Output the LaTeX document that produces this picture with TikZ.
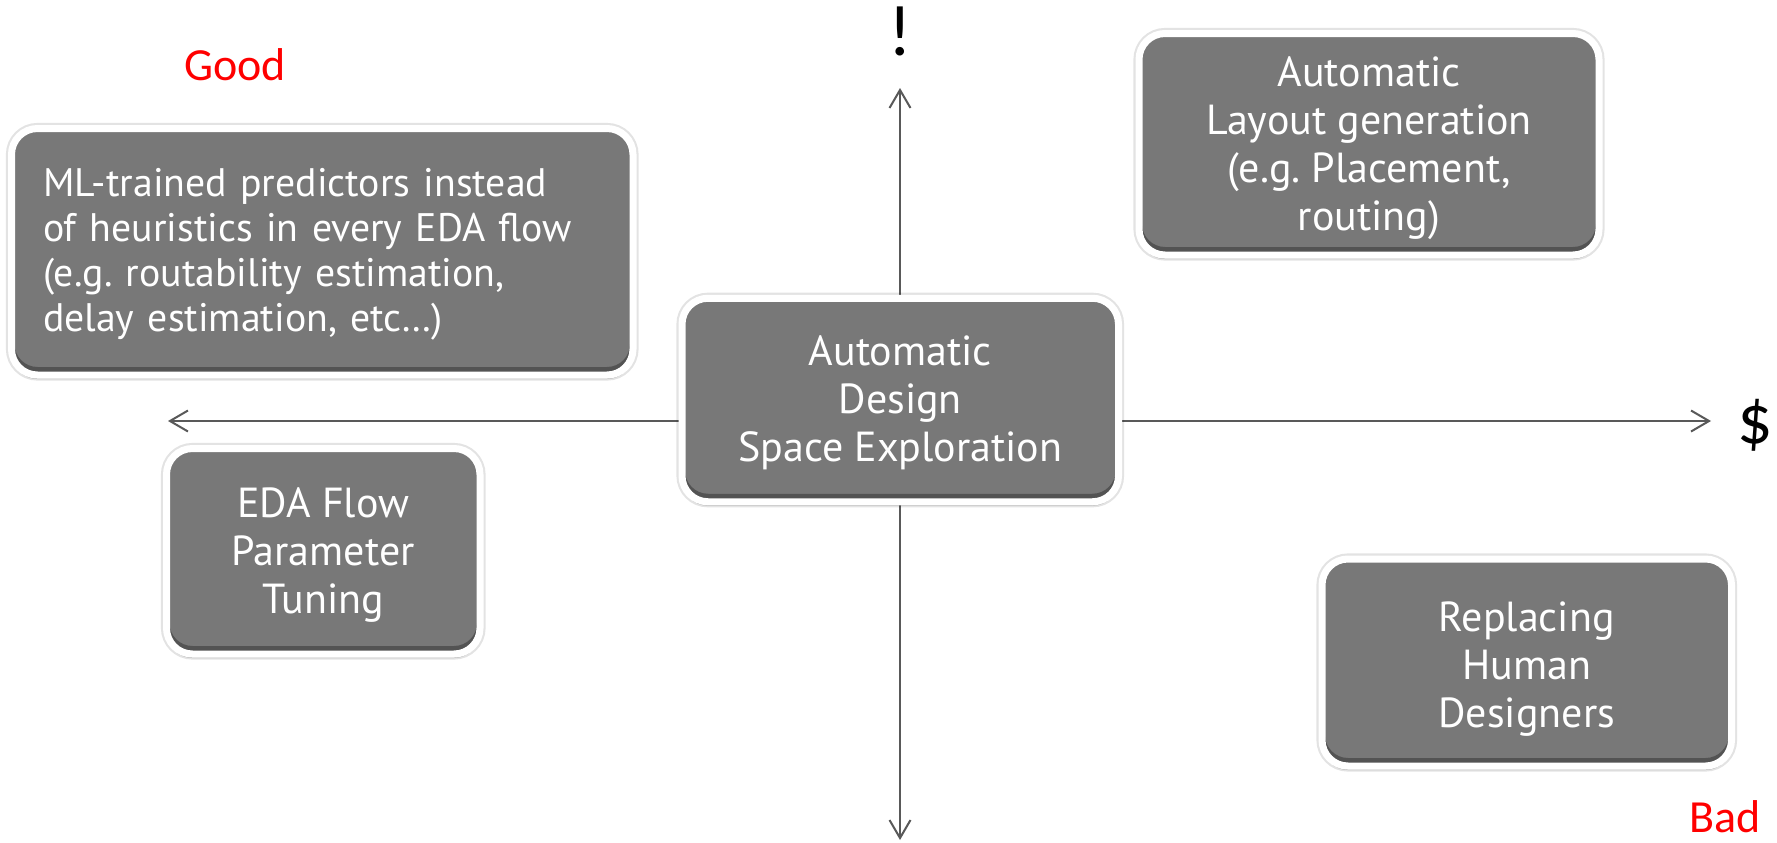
\documentclass[tikz,border=0pt]{standalone}
\usepackage{fontspec}
\setmainfont{Carlito}
\newfontfamily\boxfont{PT Sans}
\usetikzlibrary{arrows.meta,shadows}
\definecolor{boxgray}{HTML}{787878}
\definecolor{axisgray}{HTML}{595959}
\definecolor{labelred}{HTML}{FF0000}
\newcommand{\lowr}[1]{\rule{0pt}{#1}}
\tikzset{
  qbox/.style={rounded corners=13pt, fill=boxgray, draw=white, line width=3.5pt,
    text=white, font=\boxfont\frenchspacing\fontsize{21}{24}\selectfont, align=center, inner sep=0pt,
    drop shadow={shadow xshift=0pt, shadow yshift=-2pt, opacity=0.2, fill=black},
    preaction={draw=black, draw opacity=0.11, line width=5.6pt},
    path picture={\draw[black, opacity=0.3, line width=3pt, rounded corners=13pt]
      ([yshift=2.5pt]path picture bounding box.south west) rectangle
      ([yshift=2.5pt]path picture bounding box.north east);}},
  axisline/.style={draw=axisgray, line width=1pt,
    {Straight Barb[length=9pt,width=10.5pt,line width=1pt]}-{Straight Barb[length=9pt,width=10.5pt,line width=1pt]}},
  bigsym/.style={text=black, inner sep=0pt, anchor=base},
  ratelabel/.style={font=\fontsize{23}{27}\selectfont, text=labelred, inner sep=0pt, anchor=base},
}
\begin{document}
\begin{tikzpicture}[x=0.5pt,y=-0.5pt]
\fill[white] (0,0) rectangle (1777,842);
\useasboundingbox (0,0) rectangle (1777,842);

% axes
\coordinate (xl) at (168,421);
\coordinate (xr) at (1711,421);
\coordinate (yt) at (900,88);
\coordinate (yb) at (900,840);
\draw[axisline] (xl) -- (xr);
\draw[axisline] (yb) -- (yt);

\node[bigsym, font=\fontsize{36}{40}\selectfont] (excl) at (900,55) {!};
\node[bigsym, font=\fontsize{35}{40}\selectfont] (dollar) at (1755,443) {\$};
\node[ratelabel] (good) at (235,80) {Good};
\node[ratelabel] (bad) at (1725,832) {Bad};

% boxes
\node[qbox, minimum width=310.75pt, minimum height=123.25pt, align=left,
      font=\boxfont\frenchspacing\fontsize{19.9}{22.6}\selectfont,
      text width=279.25pt, inner xsep=15.75pt] (ml) at (322.25,251.75)
  {\lowr{16.6pt}ML-trained predictors instead\\of heuristics in every EDA flow\\(e.g. routability estimation,\\delay estimation, etc…)};
\node[qbox, minimum width=230pt, minimum height=110.75pt] (layout) at (1369,144.25)
  {\lowr{19pt}Automatic\\Layout generation\\(e.g. Placement,\\routing)};
\node[qbox, minimum width=218.25pt, minimum height=101.75pt] (dse) at (900.25,400)
  {\lowr{17.4pt}Automatic\\Design\\Space Exploration};
\node[qbox, minimum width=156.75pt, minimum height=102.75pt] (tuning) at (323.25,551.25)
  {\lowr{18.5pt}EDA Flow\\Parameter\\Tuning};
\node[qbox, minimum width=204.75pt, minimum height=103.5pt] (human) at (1526.75,662.5)
  {\lowr{21.5pt}Replacing\\Human\\Designers};
\end{tikzpicture}
\end{document}
